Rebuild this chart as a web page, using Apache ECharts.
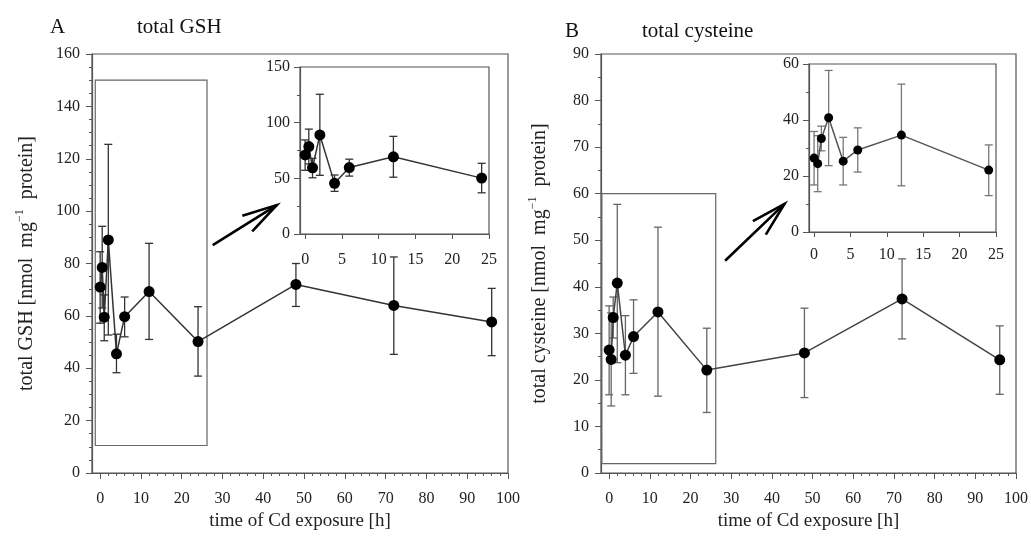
<!DOCTYPE html>
<html>
<head>
<meta charset="utf-8">
<script src="https://cdn.jsdelivr.net/npm/echarts/dist/echarts.min.js"></script>
<style>
  html, body { margin: 0; padding: 0; background: #fff; }
  #chart { width: 1031px; height: 543px; }
</style>
</head>
<body>
<div id="chart"></div>
<script>
// sampling times [h]
const hours = [0, 0.5, 1, 2, 4, 6, 12, 24, 48, 72, 96]

// A: total GSH [nmol mg-1 protein]
const gshMean = [71, 78.5, 59.5, 89, 45.5, 59.7, 69.3, 50.2, 72, 64, 57.7]
const gshUpper = [84.5, 94.2, 68, 125.5, 53, 67.2, 87.7, 63.5, 80, 82.5, 70.5]
const gshLower = [57.2, 63, 50.5, 52.7, 38.3, 52, 51, 37, 63.6, 45.3, 44.8]

// B: total cysteine [nmol mg-1 protein]
const cysMean = [26.4, 24.4, 33.4, 40.8, 25.3, 29.3, 34.6, 22.1, 25.8, 37.4, 24.3]
const cysUpper = [35.9, 34.4, 37.8, 57.7, 33.8, 37.2, 52.8, 31.1, 35.4, 46.0, 31.6]
const cysLower = [16.8, 14.4, 29.0, 23.7, 16.8, 21.4, 16.5, 13.0, 16.2, 28.8, 16.9]

// tick labels
const mainXTicks = [0, 10, 20, 30, 40, 50, 60, 70, 80, 90, 100]
const mainXMinor = [2, 4, 6, 8, 12, 14, 16, 18, 22, 24, 26, 28, 32, 34, 36, 38, 42, 44, 46, 48,
  52, 54, 56, 58, 62, 64, 66, 68, 72, 74, 76, 78, 82, 84, 86, 88, 92, 94, 96, 98]
const insetXTicks = [0, 5, 10, 15, 20, 25]

// zoom boxes [x0, y0, x1, y1] and arrows [x0, y0, x1, y1] in data units of main panels
const zoomBoxA = [-1.2, 10.5, 26.2, 150]
const zoomBoxB = [-1.8, 2, 26.2, 60]
const arrowA = [27.6, 87, 43.3, 102.3]
const arrowB = [28.5, 45.6, 43.1, 57.8]

const FONT = 'Liberation Serif'
const chart = echarts.init(document.getElementById('chart'))

const pts = (ys, maxT) => hours.map((t, i) => [t, ys[i]]).filter(p => p[0] <= maxT)
const bars = (lo, hi, maxT) => hours.map((t, i) => [t, lo[i], hi[i]]).filter(p => p[0] <= maxT)

function errorSeries(xi, yi, data, color) {
  return {
    type: 'custom',
    xAxisIndex: xi,
    yAxisIndex: yi,
    silent: true,
    z: 2,
    encode: { x: 0, y: [1, 2] },
    data,
    renderItem(params, api) {
      const x = api.value(0)
      const lo = api.coord([x, api.value(1)])
      const hi = api.coord([x, api.value(2)])
      const w = 4
      const st = { stroke: color, lineWidth: 1.3 }
      return {
        type: 'group',
        children: [
          { type: 'line', shape: { x1: lo[0], y1: lo[1], x2: hi[0], y2: hi[1] }, style: st },
          { type: 'line', shape: { x1: lo[0] - w, y1: lo[1], x2: lo[0] + w, y2: lo[1] }, style: st },
          { type: 'line', shape: { x1: hi[0] - w, y1: hi[1], x2: hi[0] + w, y2: hi[1] }, style: st }
        ]
      }
    }
  }
}

function lineSeries(xi, yi, data, lineColor, size) {
  return {
    type: 'line',
    xAxisIndex: xi,
    yAxisIndex: yi,
    data,
    z: 3,
    symbol: 'circle',
    symbolSize: size,
    itemStyle: { color: '#000' },
    lineStyle: { color: lineColor, width: 1.5 },
    silent: true
  }
}

function boxSeries(xi, yi, box) {
  return {
    type: 'custom',
    xAxisIndex: xi,
    yAxisIndex: yi,
    silent: true,
    z: 1,
    encode: { x: [0, 2], y: [1, 3] },
    data: [box],
    renderItem(params, api) {
      const a = api.coord([api.value(0), api.value(1)])
      const b = api.coord([api.value(2), api.value(3)])
      return {
        type: 'rect',
        shape: { x: a[0], y: b[1], width: b[0] - a[0], height: a[1] - b[1] },
        style: { fill: 'none', stroke: '#666', lineWidth: 1.2 }
      }
    }
  }
}

function arrowSeries(xi, yi, arr) {
  return {
    type: 'custom',
    xAxisIndex: xi,
    yAxisIndex: yi,
    silent: true,
    z: 1,
    encode: { x: [0, 2], y: [1, 3] },
    data: [arr],
    renderItem(params, api) {
      const p0 = api.coord([api.value(0), api.value(1)])
      const p1 = api.coord([api.value(2), api.value(3)])
      const ang = Math.atan2(p0[1] - p1[1], p0[0] - p1[0])
      const len = 36
      const da = 15 * Math.PI / 180
      const b1 = [p1[0] + len * Math.cos(ang + da), p1[1] + len * Math.sin(ang + da)]
      const b2 = [p1[0] + len * Math.cos(ang - da), p1[1] + len * Math.sin(ang - da)]
      const st = { stroke: '#000', lineWidth: 2.6, fill: 'none' }
      return {
        type: 'group',
        children: [
          { type: 'line', shape: { x1: p0[0], y1: p0[1], x2: p1[0], y2: p1[1] }, style: st },
          { type: 'polyline', shape: { points: [b1, p1, b2] }, style: st }
        ]
      }
    }
  }
}

const labelStyle = { fontFamily: FONT, fontSize: 16, color: '#222' }

function mainX(gi, nameText) {
  return {
    type: 'value', gridIndex: gi, min: -2, max: 100,
    name: nameText, nameLocation: 'middle', nameGap: 39,
    nameTextStyle: { fontFamily: FONT, fontSize: 19, color: '#222' },
    axisLine: { show: true, onZero: false, lineStyle: { color: '#555', width: 1.2 } },
    axisTick: { show: true, customValues: mainXTicks, length: 6, lineStyle: { color: '#555' } },
    axisLabel: Object.assign({ customValues: mainXTicks, margin: 18 }, labelStyle),
    splitLine: { show: false }
  }
}
function minorX(gi) {
  return {
    type: 'value', gridIndex: gi, min: -2, max: 100, position: 'bottom',
    axisLine: { show: false, onZero: false },
    axisTick: { show: true, customValues: mainXMinor, length: 3, lineStyle: { color: '#555' } },
    axisLabel: { show: false },
    splitLine: { show: false }
  }
}
function insetX(gi, margin) {
  return {
    type: 'value', gridIndex: gi, min: -0.7, max: 25,
    axisLine: { show: true, onZero: false, lineStyle: { color: '#555', width: 1.2 } },
    axisTick: { show: true, customValues: insetXTicks, length: 5, lineStyle: { color: '#555' } },
    axisLabel: Object.assign({ customValues: insetXTicks, margin }, labelStyle),
    splitLine: { show: false }
  }
}
function yAxisOf(gi, max, interval, minorSplit, name, gap, margin) {
  const ax = {
    type: 'value', gridIndex: gi, min: 0, max, interval,
    axisLine: { show: true, onZero: false, lineStyle: { color: '#555', width: 1.2 } },
    axisTick: { show: true, length: 6, lineStyle: { color: '#555' } },
    minorTick: { show: true, splitNumber: minorSplit, length: 3, lineStyle: { color: '#555' } },
    axisLabel: Object.assign({ margin }, labelStyle),
    splitLine: { show: false }
  }
  if (name) {
    ax.name = name
    ax.nameLocation = 'middle'
    ax.nameRotate = 90
    ax.nameGap = gap
    ax.nameTextStyle = {
      fontFamily: FONT, fontSize: 20, color: '#222',
      rich: {
        a: { fontFamily: FONT, fontSize: 20, color: '#222', lineHeight: 25 },
        s: { fontFamily: FONT, fontSize: 12, color: '#222', verticalAlign: 'top', lineHeight: 14 }
      }
    }
  }
  return ax
}

const gridStyle = { show: true, borderColor: '#555', borderWidth: 1.2, backgroundColor: 'transparent', containLabel: false }

const option = {
  animation: false,
  backgroundColor: '#fff',
  grid: [
    Object.assign({ left: 92, top: 54, width: 416, height: 419 }, gridStyle),
    Object.assign({ left: 300, top: 67, width: 189, height: 167 }, gridStyle),
    Object.assign({ left: 601, top: 54, width: 416, height: 419 }, gridStyle),
    Object.assign({ left: 809, top: 64, width: 187, height: 168 }, gridStyle)
  ],
  xAxis: [
    mainX(0, 'time of Cd exposure [h]'),
    minorX(0),
    insetX(1, 18),
    mainX(2, 'time of Cd exposure [h]'),
    minorX(2),
    insetX(3, 15)
  ],
  yAxis: [
    yAxisOf(0, 160, 20, 4, '{a|total GSH [nmol  mg}{s|\u22121}{a|  protein]}', 53, 12),
    yAxisOf(1, 150, 50, 2, null, 0, 10),
    yAxisOf(2, 90, 10, 2, '{a|total cysteine [nmol  mg}{s|\u22121}{a|  protein]}', 49, 12),
    yAxisOf(3, 60, 20, 2, null, 0, 10)
  ],
  graphic: [
    { type: 'text', left: 50, top: 17, style: { text: 'A', font: '21px "Liberation Serif"', fill: '#111' } },
    { type: 'text', left: 137, top: 17, style: { text: 'total GSH', font: '21px "Liberation Serif"', fill: '#111' } },
    { type: 'text', left: 565, top: 21, style: { text: 'B', font: '21px "Liberation Serif"', fill: '#111' } },
    { type: 'text', left: 642, top: 21, style: { text: 'total cysteine', font: '21px "Liberation Serif"', fill: '#111' } }
  ],
  series: [
    boxSeries(0, 0, zoomBoxA),
    arrowSeries(0, 0, arrowA),
    errorSeries(0, 0, bars(gshLower, gshUpper, 100), '#333'),
    lineSeries(0, 0, pts(gshMean, 100), '#333', 11),
    errorSeries(2, 1, bars(gshLower, gshUpper, 24), '#333'),
    lineSeries(2, 1, pts(gshMean, 24), '#333', 11),

    boxSeries(3, 2, zoomBoxB),
    arrowSeries(3, 2, arrowB),
    errorSeries(3, 2, bars(cysLower, cysUpper, 100), '#666'),
    lineSeries(3, 2, pts(cysMean, 100), '#444', 11),
    errorSeries(5, 3, bars(cysLower, cysUpper, 24), '#777'),
    lineSeries(5, 3, pts(cysMean, 24), '#555', 9)
  ]
}
chart.setOption(option)
window.addEventListener('resize', () => chart.resize())
</script>
</body>
</html>
